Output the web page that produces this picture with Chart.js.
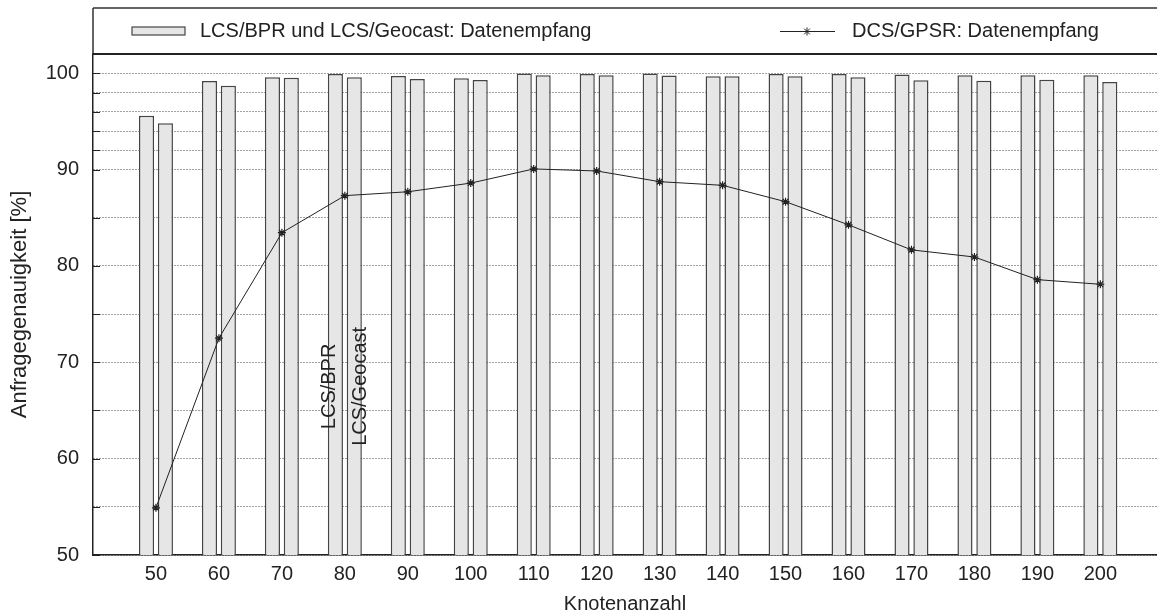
<!DOCTYPE html>
<html>
<head>
<meta charset="utf-8">
<title>Anfragegenauigkeit</title>
<script src="https://cdn.jsdelivr.net/npm/chart.js@4/dist/chart.umd.min.js"></script>
<style>
    body { margin: 0; background: #ffffff; }
    canvas { display: block; }
</style>
</head>
<body>
<canvas id="accuracyChart" width="1157" height="616"></canvas>
<script>
// Values
const knoten = [50, 60, 70, 80, 90, 100, 110, 120, 130, 140, 150, 160, 170, 180, 190, 200];
const lcsBpr = [95.6, 99.2, 99.58, 99.93, 99.72, 99.48, 99.97, 99.93, 99.97, 99.68, 99.93, 99.93, 99.86, 99.79, 99.79, 99.79];
const lcsGeocast = [94.8, 98.7, 99.54, 99.58, 99.4, 99.3, 99.79, 99.79, 99.76, 99.68, 99.68, 99.58, 99.27, 99.23, 99.34, 99.09];
const dcsGpsr = [54.9, 72.5, 83.45, 87.3, 87.7, 88.6, 90.07, 89.86, 88.75, 88.37, 86.67, 84.27, 81.67, 80.93, 78.58, 78.1];
const yTicks = [50, 55, 60, 65, 70, 75, 80, 85, 90, 92, 94, 96, 98, 100];

const barLegendText = 'LCS/BPR und LCS/Geocast: Datenempfang';
const lineLegendText = 'DCS/GPSR: Datenempfang';
const barNotes = ['LCS/BPR', 'LCS/Geocast'];

const fontFamily = '"Liberation Sans", Arial, Helvetica, sans-serif';
const textColor = '#222222';
const barFill = '#e6e6e6';
const barEdge = '#444444';

function toPoints(values) {
    return knoten.map((k, i) => ({ x: k, y: values[i] }));
}

// Frame, legend box and the two rotated notes at x = 80
const framePlugin = {
    id: 'framePlugin',
    afterDraw(chart) {
        const ctx = chart.ctx;
        const area = chart.chartArea;
        const xScale = chart.scales.x;
        const yScale = chart.scales.y;
        const frameTop = 8;
        const midY = Math.round((frameTop + area.top) / 2);

        ctx.save();

        // inner tick marks on the y axis
        ctx.strokeStyle = textColor;
        ctx.lineWidth = 1;
        yTicks.forEach(v => {
            const py = Math.round(yScale.getPixelForValue(v)) + 0.5;
            ctx.beginPath();
            ctx.moveTo(area.left, py);
            ctx.lineTo(area.left + 7, py);
            ctx.stroke();
        });

        // box lines
        ctx.strokeStyle = '#333333';
        ctx.lineWidth = 1.5;
        ctx.beginPath();
        ctx.moveTo(area.left, frameTop);
        ctx.lineTo(chart.width, frameTop);
        ctx.moveTo(area.left, frameTop);
        ctx.lineTo(area.left, area.top);
        ctx.stroke();
        ctx.strokeStyle = '#222222';
        ctx.lineWidth = 2;
        ctx.beginPath();
        ctx.moveTo(area.left, area.top);
        ctx.lineTo(chart.width, area.top);
        ctx.stroke();

        // legend: bars
        ctx.fillStyle = barFill;
        ctx.fillRect(132, midY - 4, 53, 8);
        ctx.strokeStyle = barEdge;
        ctx.lineWidth = 1.2;
        ctx.strokeRect(132, midY - 4, 53, 8);

        ctx.font = '20px ' + fontFamily;
        ctx.fillStyle = textColor;
        ctx.textAlign = 'left';
        ctx.textBaseline = 'middle';
        ctx.fillText(barLegendText, 200, midY);

        // legend: line with star
        ctx.strokeStyle = '#222222';
        ctx.lineWidth = 1;
        ctx.beginPath();
        ctx.moveTo(780, midY + 0.5);
        ctx.lineTo(835, midY + 0.5);
        ctx.stroke();
        Chart.helpers.drawPoint(ctx, { pointStyle: 'star', radius: 4, rotation: 0, borderWidth: 1 }, 807, midY + 0.5);
        ctx.fillText(lineLegendText, 852, midY);

        // rotated notes next to the bars of group 80
        const noteY = yScale.getPixelForValue(67.5);
        const noteX = [xScale.getPixelForValue(80) - 15, xScale.getPixelForValue(80) + 16];
        ctx.textAlign = 'center';
        barNotes.forEach((txt, i) => {
            ctx.save();
            ctx.translate(noteX[i], noteY);
            ctx.rotate(-Math.PI / 2);
            ctx.fillText(txt, 0, 0);
            ctx.restore();
        });

        ctx.restore();
    }
};

var ctx = document.getElementById('accuracyChart').getContext('2d');

window.accuracyChart = new Chart(ctx, {
    type: 'bar',
    data: {
        datasets: [{
            type: 'line',
            label: 'DCS/GPSR',
            data: toPoints(dcsGpsr),
            borderColor: '#222222',
            borderWidth: 1,
            pointStyle: 'star',
            pointRadius: 4,
            pointBorderColor: '#222222',
            pointBorderWidth: 1.2,
            tension: 0,
            order: 0
        },
        {
            label: 'LCS/BPR',
            data: toPoints(lcsBpr),
            backgroundColor: barFill,
            borderColor: barEdge,
            borderWidth: 1.5,
            order: 1
        },
        {
            label: 'LCS/Geocast',
            data: toPoints(lcsGeocast),
            backgroundColor: barFill,
            borderColor: barEdge,
            borderWidth: 1.5,
            order: 1
        }]
    },
    options: {
        responsive: false,
        animation: false,
        categoryPercentage: 0.6,
        barPercentage: 0.8,
        layout: {
            autoPadding: false,
            padding: { top: 54, right: 0, bottom: 0, left: 0 }
        },
        plugins: {
            legend: { display: false },
            tooltip: { enabled: false }
        },
        scales: {
            x: {
                type: 'linear',
                min: 40,
                max: 209,
                offset: false,
                afterBuildTicks: scale => {
                    scale.ticks = knoten.map(v => ({ value: v }));
                },
                afterFit: scale => {
                    scale.height = 61;
                    scale.paddingLeft = 0;
                    scale.paddingRight = 0;
                },
                grid: { display: false, drawTicks: false },
                border: { color: '#222222', width: 1.5 },
                ticks: {
                    color: textColor,
                    padding: 7,
                    maxRotation: 0,
                    autoSkip: false,
                    font: { family: fontFamily, size: 20 }
                },
                title: {
                    display: true,
                    text: 'Knotenanzahl',
                    color: textColor,
                    padding: { top: 0, bottom: 0 },
                    font: { family: fontFamily, size: 20 }
                }
            },
            y: {
                min: 50,
                max: 102,
                afterBuildTicks: scale => {
                    scale.ticks = yTicks.map(v => ({ value: v }));
                },
                afterFit: scale => {
                    scale.width = 93;
                },
                grid: { color: '#444444', lineWidth: 1, drawTicks: false },
                border: { color: '#222222', width: 1.5, dash: [1, 2] },
                ticks: {
                    color: textColor,
                    padding: 14,
                    autoSkip: false,
                    callback: v => (v % 10 === 0 ? v : ''),
                    font: { family: fontFamily, size: 20 }
                },
                title: {
                    display: true,
                    text: 'Anfragegenauigkeit [%]',
                    color: textColor,
                    padding: { top: 7, bottom: 0 },
                    font: { family: fontFamily, size: 22 }
                }
            }
        }
    },
    plugins: [framePlugin]
});
</script>
</body>
</html>
